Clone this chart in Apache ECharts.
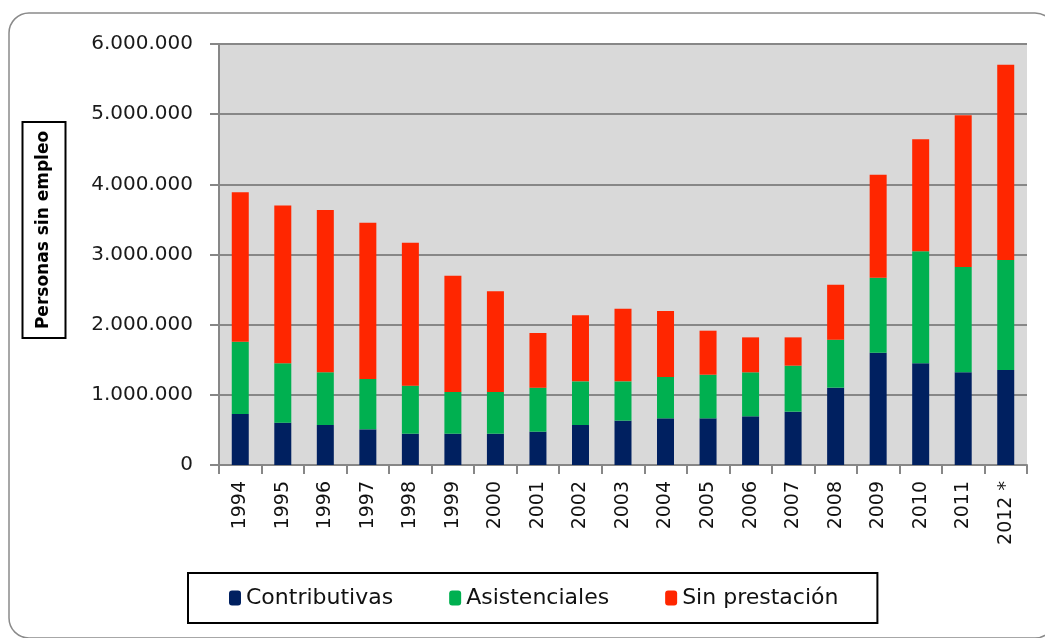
<!DOCTYPE html>
<html>
<head>
<meta charset="utf-8">
<script src="https://cdn.jsdelivr.net/npm/echarts@6/dist/echarts.min.js"></script>
<style>
  html, body { margin: 0; padding: 0; background: #fff; }
  #main { width: 1045px; height: 638px; }
</style>
</head>
<body>
<div id="main"></div>
<script>
// datos (personas)
var years = ['1994', '1995', '1996', '1997', '1998', '1999', '2000', '2001', '2002', '2003',
             '2004', '2005', '2006', '2007', '2008', '2009', '2010', '2011', '2012 *'];
var contributivas = [727000, 603000, 570000, 508000, 446000, 446000, 446000, 475000, 570000, 632000,
                     665000, 665000, 694000, 760000, 1102000, 1601000, 1449000, 1321000, 1354000];
var asistenciales = [1030000, 846000, 751000, 718000, 685000, 594000, 594000, 627000, 622000, 560000,
                     589000, 622000, 627000, 656000, 684000, 1069000, 1596000, 1501000, 1567000];
var sinPrestacion = [2129000, 2251000, 2313000, 2228000, 2037000, 1658000, 1435000, 779000, 941000, 1036000,
                     941000, 627000, 498000, 403000, 784000, 1468000, 1596000, 2161000, 2784000];
var yMax = 6000000;
var yStep = 1000000;

function miles(v) {
    return String(v).replace(/\B(?=(\d{3})+(?!\d))/g, '.');
}

var myChart = echarts.init(document.getElementById('main'));
var gris = '#878787';

var option = {
    animation: false,
    color: ['#002060', '#00B050', '#FF2600'],
    textStyle: { fontFamily: 'DejaVu Sans' },
    graphic: [
        {
            type: 'rect',
            z: -10,
            shape: { x: 9, y: 13, width: 1046, height: 625, r: 20 },
            style: { fill: 'none', stroke: '#8a8a8a', lineWidth: 1.5 }
        },
        {
            type: 'text',
            x: 44,
            y: 230,
            rotation: Math.PI / 2,
            style: {
                text: 'Personas sin empleo',
                font: 'bold 17px "DejaVu Sans"',
                fill: '#000',
                align: 'center',
                verticalAlign: 'middle',
                borderColor: '#000',
                borderWidth: 2,
                padding: [13, 9]
            }
        }
    ],
    grid: {
        left: 219,
        right: 18,
        top: 44,
        bottom: 173,
        show: true,
        backgroundColor: '#D9D9D9',
        borderWidth: 0
    },
    legend: {
        left: 188,
        top: 573,
        padding: [14, 39, 14, 41],
        borderColor: '#000',
        borderWidth: 2,
        borderRadius: 0,
        itemWidth: 12,
        itemHeight: 15,
        itemGap: 56,
        textStyle: { fontSize: 22, color: '#111', fontFamily: 'DejaVu Sans' },
        data: ['Contributivas', 'Asistenciales', 'Sin prestación']
    },
    xAxis: {
        type: 'category',
        data: years,
        axisLine: { lineStyle: { color: gris, width: 2 } },
        axisTick: { show: true, interval: 0, length: 9, lineStyle: { color: gris, width: 2 } },
        axisLabel: {
            interval: 0,
            rotate: 90,
            margin: 16,
            fontSize: 19,
            color: '#111'
        }
    },
    yAxis: {
        type: 'value',
        min: 0,
        max: yMax,
        interval: yStep,
        axisLine: { show: true, lineStyle: { color: gris, width: 2 } },
        axisTick: { show: true, length: 9, lineStyle: { color: gris, width: 2 } },
        splitLine: { show: true, lineStyle: { color: gris, width: 2 } },
        axisLabel: {
            margin: 26,
            fontSize: 20,
            color: '#1a1a1a',
            formatter: miles
        }
    },
    series: [
        { name: 'Contributivas', type: 'bar', stack: 'total', barWidth: 17, data: contributivas },
        { name: 'Asistenciales', type: 'bar', stack: 'total', barWidth: 17, data: asistenciales },
        { name: 'Sin prestación', type: 'bar', stack: 'total', barWidth: 17, data: sinPrestacion }
    ]
};

myChart.setOption(option);
</script>
</body>
</html>
